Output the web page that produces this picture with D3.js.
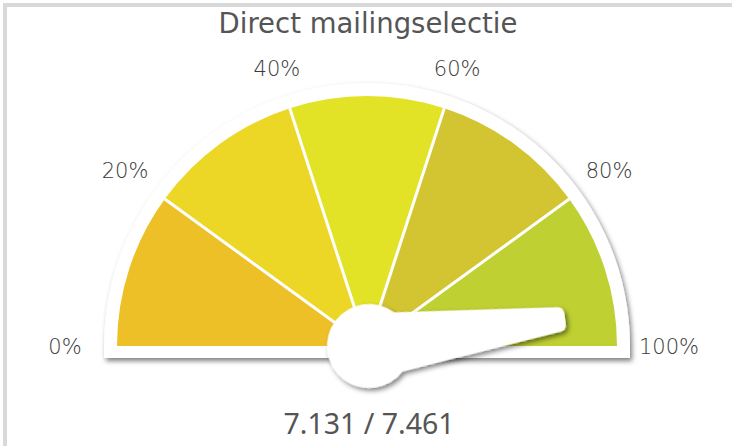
<!DOCTYPE html>
<html>
<head>
<meta charset="utf-8">
<script src="https://cdn.jsdelivr.net/npm/d3@7"></script>
<style>
  html, body { margin: 0; padding: 0; background: #fff; }
  svg { display: block; }
</style>
</head>
<body>
<div id="chart"></div>
<script>
// data
const TITLE = "Direct mailingselectie";
const BAND_STOPS = [0, 20, 40, 60, 80, 100];
const BAND_COLORS = ["#edc028", "#edd726", "#e2e327", "#d3c531", "#bfd032"];
const TICK_VALUES = [0, 20, 40, 60, 80, 100];
const TICK_LABELS = ["0%", "20%", "40%", "60%", "80%", "100%"];
const VALUE = 7131;
const TOTAL = 7461;

// frame
const WIDTH = 732;
const HEIGHT = 446;
const CX = 367;
const CY = 346;
const R_INNER = 250;   // coloured bands
const R_RIM = 263;     // white rim
const RIM_BOTTOM = 12; // rim below the baseline

const svg = d3.select("#chart")
  .append("svg")
    .attr("width", WIDTH)
    .attr("height", HEIGHT);

// shadow filter
const defs = svg.append("defs");
const shadow = defs.append("filter")
    .attr("id", "shadow")
    .attr("x", "-20%").attr("y", "-20%")
    .attr("width", "140%").attr("height", "140%");
shadow.append("feDropShadow")
    .attr("dx", 2).attr("dy", 3)
    .attr("stdDeviation", 2.5)
    .attr("flood-color", "#000")
    .attr("flood-opacity", 0.5);

// outer border (only top and left are visible)
svg.append("rect")
    .attr("x", 5).attr("y", 5)
    .attr("width", WIDTH + 20).attr("height", HEIGHT + 20)
    .attr("fill", "none")
    .attr("stroke", "#d9d9d9")
    .attr("stroke-width", 4);

// angle scale: 0% on the left, 100% on the right
const ANGLE = d3.scaleLinear()
    .domain([0, 100])
    .range([-Math.PI / 2, Math.PI / 2]);

const gauge = svg.append("g")
    .attr("transform", "translate(" + CX + "," + CY + ")");

// white rim: half disc plus a strip below the baseline
const rimPath = d3.path();
rimPath.moveTo(-R_RIM, 0);
rimPath.arc(0, 0, R_RIM, Math.PI, 2 * Math.PI);
rimPath.lineTo(R_RIM, RIM_BOTTOM);
rimPath.lineTo(-R_RIM, RIM_BOTTOM);
rimPath.closePath();

gauge.append("path")
    .attr("d", rimPath.toString())
    .attr("fill", "#fff")
    .attr("filter", "url(#shadow)");

// coloured bands
const arc = d3.arc()
    .innerRadius(0)
    .outerRadius(R_INNER);

const bands = BAND_COLORS.map((c, i) => ({from: BAND_STOPS[i], to: BAND_STOPS[i + 1], color: c}));

gauge.selectAll(".band")
  .data(bands)
  .enter()
  .append("path")
    .attr("class", "band")
    .attr("d", (d) => arc({startAngle: ANGLE(d.from), endAngle: ANGLE(d.to)}))
    .attr("fill", (d) => d.color);

// white separators between bands
gauge.selectAll(".sep")
  .data(BAND_STOPS.slice(1, -1))
  .enter()
  .append("line")
    .attr("class", "sep")
    .attr("x1", 0).attr("y1", 0)
    .attr("x2", (d) => R_INNER * Math.sin(ANGLE(d)))
    .attr("y2", (d) => -R_INNER * Math.cos(ANGLE(d)))
    .attr("stroke", "#fff")
    .attr("stroke-width", 3);

// tick labels round the rim
gauge.selectAll(".tick")
  .data(TICK_VALUES)
  .enter()
  .append("text")
    .attr("class", "tick")
    .attr("x", (d) => {
      const a = ANGLE(d);
      const r = 287 + 15 * Math.abs(Math.sin(a));
      return r * Math.sin(a);
    })
    .attr("y", (d) => {
      const a = ANGLE(d);
      const r = 287 + 15 * Math.abs(Math.sin(a));
      return -r * Math.cos(a);
    })
    .attr("dy", "0.36em")
    .attr("text-anchor", "middle")
    .attr("font-family", "'DejaVu Sans', sans-serif")
    .attr("font-weight", 200)
    .attr("font-size", 21)
    .attr("fill", "#3a3a3a")
    .text((d, i) => TICK_LABELS[i]);

// needle
const pct = VALUE / TOTAL * 100;
const NEEDLE_LEN = 198;
const HUB_R = 42;
const HALF_BASE = 33;
const HALF_TIP = 12.5;
const TIP_ROUND = 8;

const np = d3.path();
np.moveTo(0, -HALF_BASE);
np.lineTo(NEEDLE_LEN - TIP_ROUND, -HALF_TIP);
np.quadraticCurveTo(NEEDLE_LEN, -HALF_TIP, NEEDLE_LEN, -HALF_TIP + TIP_ROUND);
np.lineTo(NEEDLE_LEN, HALF_TIP - TIP_ROUND);
np.quadraticCurveTo(NEEDLE_LEN, HALF_TIP, NEEDLE_LEN - TIP_ROUND, HALF_TIP);
np.lineTo(0, HALF_BASE);
np.closePath();
np.moveTo(HUB_R, 0);
np.arc(0, 0, HUB_R, 0, 2 * Math.PI);

// rotate so the needle points at the value (0 deg = pointing right)
const needleDeg = ANGLE(pct) * 180 / Math.PI - 90;

gauge.append("path")
    .attr("d", np.toString())
    .attr("fill", "#fff")
    .attr("fill-rule", "nonzero")
    .attr("transform", "translate(2,0) rotate(" + needleDeg + ")")
    .attr("filter", "url(#shadow)");

// title
svg.append("text")
    .attr("x", 368)
    .attr("y", 33)
    .attr("text-anchor", "middle")
    .attr("font-family", "'DejaVu Sans', sans-serif")
    .attr("font-size", 27.5)
    .attr("fill", "#555")
    .text(TITLE);

// value / total
const nl = d3.formatLocale({decimal: ",", thousands: ".", grouping: [3], currency: ["€", ""]});
const fmt = nl.format(",d");

svg.append("text")
    .attr("x", 369)
    .attr("y", 434)
    .attr("text-anchor", "middle")
    .attr("font-family", "'Noto Sans', sans-serif")
    .attr("font-size", 28.5)
    .attr("fill", "#555")
    .text(fmt(VALUE) + " / " + fmt(TOTAL));
</script>
</body>
</html>
